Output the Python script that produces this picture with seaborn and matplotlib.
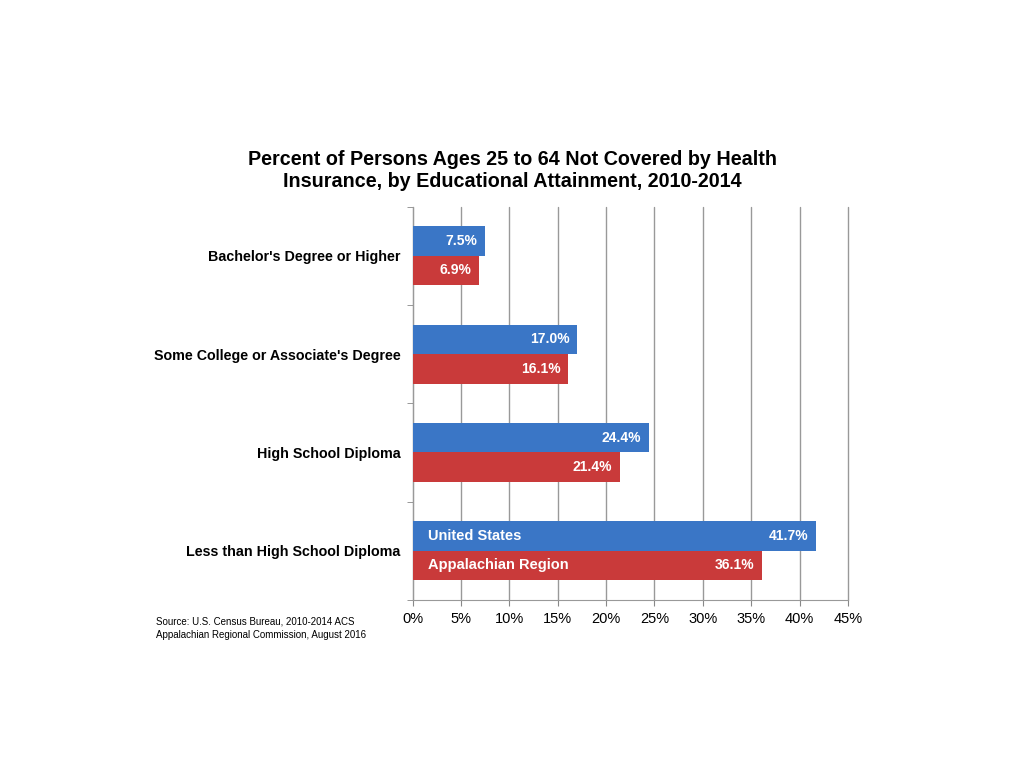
import pandas as pd
import numpy as np
import matplotlib
matplotlib.use("Agg")
import matplotlib.pyplot as plt
import seaborn as sns

sns.set_style("white")
plt.rcParams['font.family'] = ['Liberation Sans', 'DejaVu Sans']
plt.rcParams['text.color'] = 'black'
plt.rcParams['xtick.color'] = 'black'
plt.rcParams['ytick.color'] = 'black'

# data
categories = ["Bachelor's Degree or Higher",
              "Some College or Associate's Degree",
              "High School Diploma",
              "Less than High School Diploma"]
us_values = [7.5, 17.0, 24.4, 41.7]
app_values = [6.9, 16.1, 21.4, 36.1]
series = ["United States", "Appalachian Region"]
colors = ["#3a76c6", "#c93a3a"]

df = pd.DataFrame({
    'category': categories * 2,
    'value': us_values + app_values,
    'region': [series[0]] * 4 + [series[1]] * 4,
})

fig = plt.figure(figsize=(10.24, 7.68), dpi=100)
ax = fig.add_axes([0.403, 0.219, 0.425, 0.512])

sns.barplot(data=df, y='category', x='value', hue='region', orient='h',
            palette=colors, width=0.6, saturation=1, linewidth=0,
            ax=ax, zorder=3)
ax.get_legend().remove()

# value labels inside the bars
for cont in ax.containers:
    for bar in cont:
        w = bar.get_width()
        ax.text(w - 0.8, bar.get_y() + bar.get_height() / 2, f"{w:.1f}%",
                ha='right', va='center', color='white', fontsize=10,
                fontweight='bold', zorder=4)

# series names inside the last group
for cont, name in zip(ax.containers, series):
    bar = cont[-1]
    ax.text(1.6, bar.get_y() + bar.get_height() / 2, name,
            ha='left', va='center', color='white', fontsize=10.5,
            fontweight='bold', zorder=4)

ax.set_xlim(0, 45)
ax.set_ylim(3.5, -0.5)
ax.set_xticks(np.arange(0, 46, 5))
ax.set_xticklabels([f"{t}%" for t in range(0, 46, 5)], fontsize=10.5)
ax.xaxis.grid(True, color='#999999', linewidth=1, zorder=0)
for gl in ax.get_xgridlines():
    gl.set_clip_on(False)
ax.set_xlabel('')
ax.set_ylabel('')

# category labels at centres, ticks at boundaries
ax.set_yticks(range(4))
ax.set_yticklabels(categories, fontsize=10.3, fontweight='bold')
ax.set_yticks(np.arange(-0.5, 4, 1), minor=True)
ax.tick_params(axis='y', which='major', length=0, pad=8.5)
ax.tick_params(axis='y', which='minor', length=4, color='#888888', direction='out', left=True)
ax.tick_params(axis='x', length=4, color='#888888', bottom=True, pad=5)

for s in ['top', 'right']:
    ax.spines[s].set_visible(False)
for s in ['left', 'bottom']:
    ax.spines[s].set_color('#999999')

fig.text(0.5, 0.778, "Percent of Persons Ages 25 to 64 Not Covered by Health\n"
         "Insurance, by Educational Attainment, 2010-2014",
         ha='center', va='center', fontsize=14.2, fontweight='bold', linespacing=1.25)

fig.text(0.152, 0.182, "Source: U.S. Census Bureau, 2010-2014 ACS\n"
         "Appalachian Regional Commission, August 2016",
         ha='left', va='center', fontsize=7, linespacing=1.5)

fig.savefig("out.png", dpi=100)
